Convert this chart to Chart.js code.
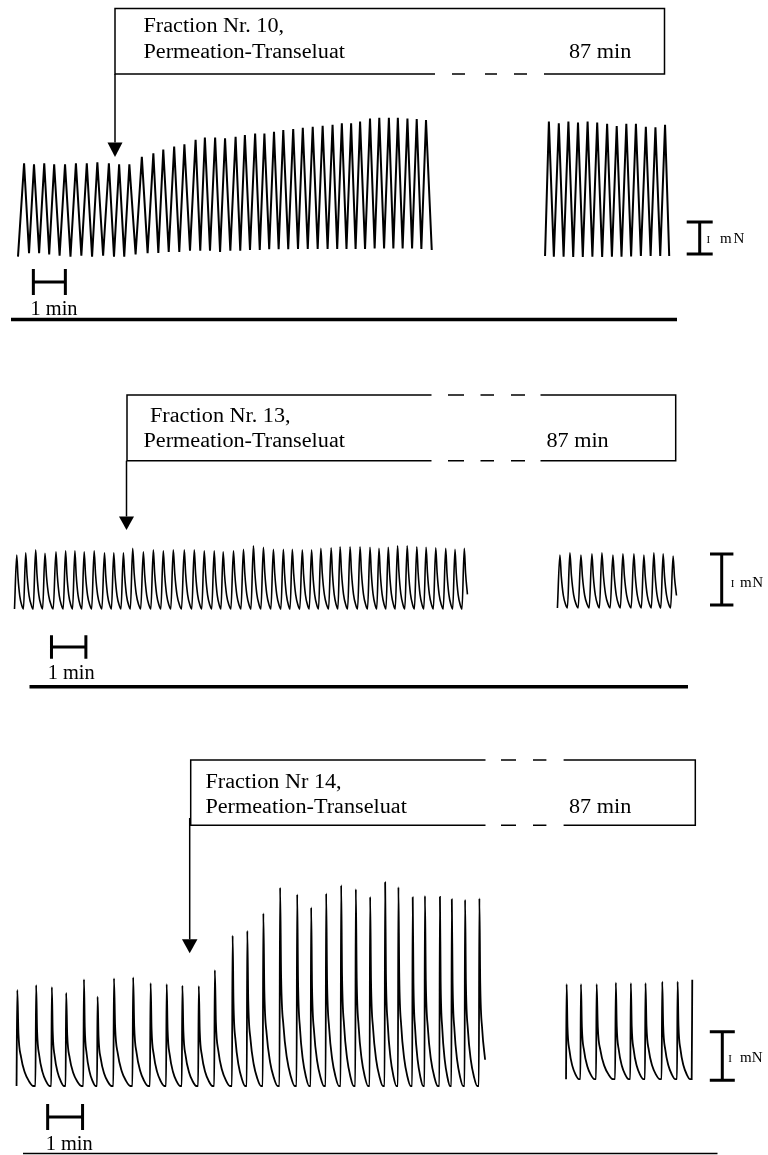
<!DOCTYPE html>
<html>
<head>
<meta charset="utf-8">
<script src="https://cdn.jsdelivr.net/npm/chart.js@4.4.1/dist/chart.umd.min.js"></script>
<style>
    html, body { margin: 0; padding: 0; background: #fff; }
    .page { position: relative; width: 768px; height: 1155px; overflow: hidden; background: #fff; }
    .page canvas { position: absolute; left: 0; }
</style>
</head>
<body>
<div class="page">
    <canvas id="panel1" width="768" height="330" style="top:0"></canvas>
    <canvas id="panel2" width="768" height="370" style="top:330px"></canvas>
    <canvas id="panel3" width="768" height="455" style="top:700px"></canvas>
</div>
<script>
(() => {
    // time in min, force in mN

    // Fraction Nr. 10 - triangular contractions
    const p1TimesA = [0.19, 0.50, 0.82, 1.13, 1.47, 1.81, 2.15, 2.48, 2.84, 3.16,
        3.48, 3.87, 4.23, 4.54, 4.88, 5.20, 5.55, 5.84, 6.16, 6.47,
        6.80, 7.09, 7.41, 7.70, 8.00, 8.29, 8.60, 8.90, 9.21, 9.52,
        9.83, 10.12, 10.41, 10.69, 11.00, 11.29, 11.59, 11.87, 12.17, 12.46, 12.75];
    const p1PeaksA = [2.93, 2.90, 2.93, 2.90, 2.90, 2.93, 2.93, 2.96, 2.93, 2.90,
        2.90, 3.13, 3.24, 3.36, 3.45, 3.52, 3.66, 3.73, 3.73, 3.71,
        3.76, 3.81, 3.86, 3.86, 3.91, 3.97, 4.00, 4.04, 4.07, 4.10,
        4.13, 4.18, 4.18, 4.23, 4.33, 4.35, 4.35, 4.35, 4.33, 4.31, 4.28];
    const p1TroughsA = [0.01, 0.12, 0.12, 0.08, 0.04, 0.01, 0.04, 0.01, 0.04, 0.01,
        0.01, 0.08, 0.12, 0.13, 0.16, 0.16, 0.20, 0.20, 0.20, 0.16,
        0.20, 0.20, 0.22, 0.22, 0.24, 0.24, 0.24, 0.25, 0.25, 0.25,
        0.25, 0.25, 0.25, 0.25, 0.25, 0.27, 0.27, 0.27, 0.27, 0.27, 0.25, 0.22];
    const p1SpanA = [0, 12.93];
    const p1TimesB = [16.59, 16.90, 17.20, 17.50, 17.80, 18.10, 18.41, 18.71, 19.01, 19.31, 19.62, 19.92, 20.22];
    const p1PeaksB = [4.23, 4.18, 4.23, 4.20, 4.23, 4.20, 4.16, 4.09, 4.16, 4.16, 4.07, 4.05, 4.13];
    const p1TroughsB = [0.03, 0.01, 0.01, 0.0, 0.0, 0.01, 0.0, 0.01, 0.01, 0.02, 0.03, 0.03, 0.03, 0.03];
    const p1SpanB = [16.47, 20.35];

    // Fraction Nr. 13
    const p2TimesA = [0.10, 0.36, 0.65, 0.92, 1.24, 1.52, 1.79, 2.06, 2.35, 2.65,
        2.92, 3.20, 3.47, 3.78, 4.07, 4.36, 4.65, 4.97, 5.26, 5.55,
        5.84, 6.10, 6.40, 6.69, 6.98, 7.27, 7.56, 7.85, 8.11, 8.40,
        8.67, 8.94, 9.24, 9.50, 9.79, 10.08, 10.37, 10.63, 10.90, 11.17,
        11.45, 11.73, 12.00, 12.28, 12.57, 12.84, 13.11];
    const p2PeaksA = [1.06, 1.10, 1.16, 1.09, 1.12, 1.14, 1.14, 1.12, 1.14, 1.10,
        1.10, 1.10, 1.19, 1.12, 1.16, 1.14, 1.16, 1.16, 1.16, 1.14,
        1.14, 1.12, 1.14, 1.17, 1.24, 1.21, 1.17, 1.17, 1.17, 1.16,
        1.16, 1.19, 1.20, 1.22, 1.22, 1.22, 1.21, 1.19, 1.21, 1.24,
        1.24, 1.22, 1.21, 1.20, 1.19, 1.17, 1.19];
    const p2TimesB = [15.89, 16.18, 16.50, 16.82, 17.11, 17.43, 17.72, 18.04, 18.33, 18.62, 18.89, 19.18];
    const p2PeaksB = [1.06, 1.10, 1.06, 1.08, 1.10, 1.06, 1.08, 1.08, 1.06, 1.10, 1.08, 1.04];
    const p2Bases = [0, 0.02];
    const p2Ends = [13.22, 19.32];

    // Fraction Nr 14
    const p3TimesA = [0, 0.54, 0.99, 1.40, 1.91, 2.30, 2.77, 3.32, 3.82, 4.28,
        4.73, 5.20, 5.66, 6.17, 6.59, 7.05, 7.53, 8.02, 8.42, 8.85,
        9.28, 9.70, 10.11, 10.54, 10.92, 11.33, 11.68, 12.11, 12.45, 12.83, 13.24];
    const p3PeaksA = [1.98, 2.08, 2.04, 1.92, 2.20, 1.84, 2.22, 2.24, 2.12, 2.10,
        2.07, 2.06, 2.39, 3.10, 3.20, 3.56, 4.09, 3.95, 3.68, 3.97,
        4.14, 4.06, 3.90, 4.20, 4.10, 3.89, 3.92, 3.90, 3.85, 3.84, 3.87];
    const p3TimesB = [15.74, 16.15, 16.60, 17.15, 17.58, 18.00, 18.48, 18.92, 19.34];
    const p3PeaksB = [2.10, 2.10, 2.10, 2.13, 2.12, 2.12, 2.15, 2.15, 2.19];
    const p3Bases = [0, 0.14];
    const p3Ends = [13.45, 19.34];

    // one contraction: [fraction of period after peak, fraction of amplitude]
    const twitchShape2 = [[0, 1], [0.14, 0.59], [0.34, 0.24], [0.58, 0.06], [0.75, 0]];
    const twitchShape3 = [[0, 1], [0.06, 0.55], [0.2, 0.3], [0.4, 0.14], [0.62, 0.05], [0.85, 0], [0.96, 0]];

    const titles = ['Fraction Nr. 10,', 'Fraction Nr. 13,', 'Fraction Nr 14,'];
    const subtitle = 'Permeation-Transeluat';
    const duration = '87 min';
    const timeUnit = '1 min';
    const forceUnit = ['I', 'm', 'N'];

    const SERIF = '"Liberation Serif", "Times New Roman", serif';

    const panels = [
        {
            id: 'panel1',
            scale: { originX: 18, pxPerMin: 32, baseY: 257, pxPerMN: 32 },
            box: { left: 115, top: 8.5, right: 664.5, bottom: 74, breakTop: false, gap: [435, 544], dashes: [[452, 465], [485, 497], [514, 527]] },
            textAt: [[143.5, 31.5], [143.5, 58], [569, 58]],
            arrow: { x: 115, from: 74, tip: 157, headW: 15, headH: 14.5 },
            timeBar: { t: 0.48, y: 282, half: 13 },
            timeLabel: [30.5, 315],
            forceBar: { x: 699.7, v: 0.09, cap: 13 },
            forceLabel: { ix: 706.5, mx: 720, nx: 733.5, y: 243.3 },
            rule: { x0: 11, x1: 677, y: 319.5, w: 3.5 },
        },
        {
            id: 'panel2',
            scale: { originX: 13.3, pxPerMin: 34.4, baseY: 279, pxPerMN: 51 },
            box: { left: 127, top: 65, right: 675.7, bottom: 130.7, breakTop: true, gap: [431.5, 540.5], dashes: [[448, 464], [480.5, 494], [511, 525]] },
            textAt: [[150, 91.7], [143.5, 117.3], [546.4, 117.3]],
            arrow: { x: 126.5, from: 130.7, tip: 200, headW: 15, headH: 13.5 },
            timeBar: { t: 1.11, y: 317, half: 11.7 },
            timeLabel: [47.7, 349.3],
            forceBar: { x: 721.7, v: 0.08, cap: 11.7 },
            forceLabel: { ix: 730.7, mx: 740, nx: 752.3, y: 257.3 },
            rule: { x0: 29.5, x1: 688, y: 356.7, w: 3.5 },
        },
        {
            id: 'panel3',
            scale: { originX: 17.3, pxPerMin: 34.9, baseY: 386, pxPerMN: 48.5 },
            box: { left: 190.7, top: 60, right: 695.3, bottom: 125.3, breakTop: true, gap: [485.5, 563.6], dashes: [[501, 516], [533, 546.4]] },
            textAt: [[205.4, 88.3], [205.4, 113.3], [569, 113.3]],
            arrow: { x: 189.7, from: 118, tip: 253.3, headW: 15.5, headH: 14 },
            timeBar: { t: 0.87, y: 417, half: 13 },
            timeLabel: [45.7, 450],
            forceBar: { x: 722.3, v: 0.12, cap: 12.5 },
            forceLabel: { ix: 728.3, mx: 740, nx: 751.7, y: 361.7 },
            rule: { x0: 23, x1: 717.5, y: 453.5, w: 1.5 },
        },
    ];

    function sawPoints(times, peaks, troughs, span) {
        const pts = [{ x: span[0], y: troughs[0] }];
        times.forEach((t, i) => {
            pts.push({ x: t, y: peaks[i] });
            const next = i < times.length - 1 ? (t + times[i + 1]) / 2 : span[1];
            pts.push({ x: next, y: troughs[i + 1] });
        });
        return pts;
    }

    function twitchPoints(times, peaks, base, shape, end) {
        const pts = [];
        const last = shape[shape.length - 1][0];
        times.forEach((t, i) => {
            const period = i < times.length - 1 ? times[i + 1] - t : t - times[i - 1];
            if (i === 0) {
                pts.push({ x: t - (1 - last) * period, y: base });
            }
            shape.forEach(([f, g]) => {
                const x = t + f * period;
                if (x <= end) {
                    pts.push({ x, y: base + (peaks[i] - base) * g });
                }
            });
        });
        return pts;
    }

    const trace = (data, width, smooth) => ({
        data,
        borderColor: '#000',
        borderWidth: width,
        pointRadius: 0,
        tension: 0,
        cubicInterpolationMode: smooth ? 'monotone' : 'default',
        fill: false,
    });

    const datasets = [
        [
            trace(sawPoints(p1TimesA, p1PeaksA, p1TroughsA, p1SpanA), 2, false),
            trace(sawPoints(p1TimesB, p1PeaksB, p1TroughsB, p1SpanB), 2, false),
        ],
        [
            trace(twitchPoints(p2TimesA, p2PeaksA, p2Bases[0], twitchShape2, p2Ends[0]), 1.6, true),
            trace(twitchPoints(p2TimesB, p2PeaksB, p2Bases[1], twitchShape2, p2Ends[1]), 1.6, true),
        ],
        [
            trace(twitchPoints(p3TimesA, p3PeaksA, p3Bases[0], twitchShape3, p3Ends[0]), 1.8, true),
            trace(twitchPoints(p3TimesB, p3PeaksB, p3Bases[1], twitchShape3, p3Ends[1]), 1.8, true),
        ],
    ];

    function drawText(ctx, str, x, y, size, stretch = 1) {
        ctx.save();
        ctx.font = `${size}px ${SERIF}`;
        ctx.textAlign = 'left';
        ctx.textBaseline = 'alphabetic';
        ctx.translate(x, y);
        ctx.scale(stretch, 1);
        ctx.fillText(str, 0, 0);
        ctx.restore();
    }

    function drawDecor(chart, p, idx) {
        const { ctx, scales: { x, y } } = chart;
        ctx.save();
        ctx.strokeStyle = '#000';
        ctx.fillStyle = '#000';
        ctx.lineCap = 'butt';

        // label box with the broken (dashed) stretch
        const b = p.box;
        ctx.lineWidth = 1.5;
        ctx.beginPath();
        ctx.moveTo(b.left, b.top - 0.75);
        ctx.lineTo(b.left, b.bottom + 0.75);
        ctx.moveTo(b.right, b.top - 0.75);
        ctx.lineTo(b.right, b.bottom + 0.75);
        [[b.top, b.breakTop], [b.bottom, true]].forEach(([yy, broken]) => {
            if (broken) {
                ctx.moveTo(b.left, yy);
                ctx.lineTo(b.gap[0], yy);
                ctx.moveTo(b.gap[1], yy);
                ctx.lineTo(b.right, yy);
                b.dashes.forEach(([d0, d1]) => {
                    ctx.moveTo(d0, yy);
                    ctx.lineTo(d1, yy);
                });
            } else {
                ctx.moveTo(b.left, yy);
                ctx.lineTo(b.right, yy);
            }
        });
        ctx.stroke();

        const [t1, t2, t3] = p.textAt;
        drawText(ctx, titles[idx], t1[0], t1[1], 20, 1.11);
        drawText(ctx, subtitle, t2[0], t2[1], 20, 1.11);
        drawText(ctx, duration, t3[0], t3[1], 20, 1.11);

        // arrow marking the addition
        const a = p.arrow;
        ctx.lineWidth = 1.5;
        ctx.beginPath();
        ctx.moveTo(a.x, a.from);
        ctx.lineTo(a.x, a.tip - a.headH);
        ctx.stroke();
        ctx.beginPath();
        ctx.moveTo(a.x - a.headW / 2, a.tip - a.headH);
        ctx.lineTo(a.x + a.headW / 2, a.tip - a.headH);
        ctx.lineTo(a.x, a.tip);
        ctx.closePath();
        ctx.fill();

        // 1 min bar
        const tb = p.timeBar;
        const xa = x.getPixelForValue(tb.t);
        const xb = x.getPixelForValue(tb.t + 1);
        ctx.lineWidth = 3;
        ctx.beginPath();
        ctx.moveTo(xa, tb.y);
        ctx.lineTo(xb, tb.y);
        ctx.moveTo(xa, tb.y - tb.half);
        ctx.lineTo(xa, tb.y + tb.half);
        ctx.moveTo(xb, tb.y - tb.half);
        ctx.lineTo(xb, tb.y + tb.half);
        ctx.stroke();
        drawText(ctx, timeUnit, p.timeLabel[0], p.timeLabel[1], 20, 1.02);

        // 1 mN bar
        const fb = p.forceBar;
        const ya = y.getPixelForValue(fb.v);
        const yb = y.getPixelForValue(fb.v + 1);
        ctx.beginPath();
        ctx.moveTo(fb.x, ya);
        ctx.lineTo(fb.x, yb);
        ctx.moveTo(fb.x - fb.cap, ya);
        ctx.lineTo(fb.x + fb.cap, ya);
        ctx.moveTo(fb.x - fb.cap, yb);
        ctx.lineTo(fb.x + fb.cap, yb);
        ctx.stroke();
        const fl = p.forceLabel;
        drawText(ctx, forceUnit[0], fl.ix, fl.y, 11);
        drawText(ctx, forceUnit[1], fl.mx, fl.y, 15);
        drawText(ctx, forceUnit[2], fl.nx, fl.y, 15);

        // separator rule
        ctx.lineWidth = p.rule.w;
        ctx.beginPath();
        ctx.moveTo(p.rule.x0, p.rule.y);
        ctx.lineTo(p.rule.x1, p.rule.y);
        ctx.stroke();

        ctx.restore();
    }

    panels.forEach((p, idx) => {
        const canvas = document.getElementById(p.id);
        const { originX, pxPerMin, baseY, pxPerMN } = p.scale;

        new Chart(canvas, {
            type: 'line',
            data: { datasets: datasets[idx] },
            options: {
                responsive: false,
                animation: false,
                events: [],
                layout: { padding: 0 },
                plugins: {
                    legend: { display: false },
                    tooltip: { enabled: false },
                },
                scales: {
                    x: {
                        type: 'linear',
                        display: false,
                        min: -originX / pxPerMin,
                        max: (canvas.width - originX) / pxPerMin,
                    },
                    y: {
                        type: 'linear',
                        display: false,
                        min: -(canvas.height - baseY) / pxPerMN,
                        max: baseY / pxPerMN,
                    },
                },
            },
            plugins: [{ id: 'decor', afterDraw: (chart) => drawDecor(chart, p, idx) }],
        });
    });
})();
</script>
</body>
</html>
